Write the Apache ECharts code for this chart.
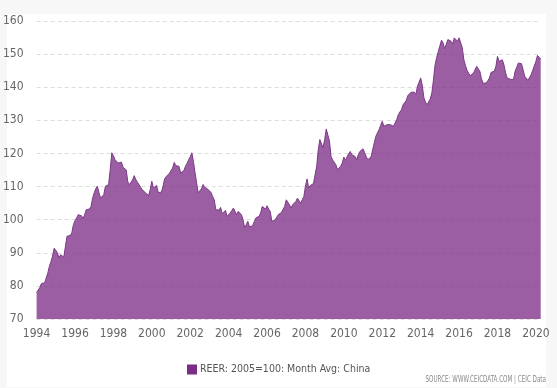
<!DOCTYPE html>
<html>
<head>
<meta charset="utf-8">
<script src="https://cdn.jsdelivr.net/npm/echarts@6/dist/echarts.min.js"></script>
<style>html,body{margin:0;padding:0;background:#f7f7f7;}#c{width:557px;height:388px;}</style>
</head>
<body>
<div id="c"></div>
<script>
var startYear = 1994;
var values1994 = [78.0,78.5,79.5,80.7,81.0,80.9,80.4,83.9,85.9,87.4,89.0,91.4];
var values1995 = [91.6,90.0,88.4,89.4,89.0,88.7,91.9,95.0,95.5,95.2,96.0,98.5];
var values1996 = [99.7,100.5,101.5,101.5,101.2,100.3,101.5,103.0,103.3,103.2,104.0,106.5];
var values1997 = [108.1,109.4,110.1,108.1,106.5,106.0,107.6,110.1,110.3,110.6,115.1,120.2];
var values1998 = [119.3,118.1,117.5,117.1,116.6,117.4,115.8,115.3,115.0,111.4,110.6,110.5];
var values1999 = [112.0,113.3,112.1,111.3,110.6,109.8,109.1,108.6,108.1,107.8,107.3,109.1];
var values2000 = [111.6,109.6,110.0,110.3,108.2,108.1,108.3,110.1,112.3,113.0,113.6,114.0];
var values2001 = [114.6,115.6,117.3,116.3,116.2,116.1,114.1,114.5,114.8,116.1,117.0,118.1];
var values2002 = [119.0,120.2,117.6,114.1,111.1,108.1,108.7,109.3,110.6,109.8,109.3,109.2];
var values2003 = [109.1,108.2,107.0,106.0,103.0,103.0,102.9,103.7,101.8,101.5,102.8,101.0];
var values2004 = [101.5,102.0,102.8,103.5,102.5,101.5,102.5,102.8,101.5,100.0,97.5,98.5];
var values2005 = [99.5,97.8,98.0,98.2,98.5,100.5,100.8,101.0,102.0,104.0,103.6,103.2];
var values2006 = [104.2,103.2,102.5,99.5,100.0,99.9,99.8,101.5,101.8,102.2,102.2,104.0];
var values2007 = [106.0,105.5,104.5,103.5,104.5,105.0,105.5,106.5,106.0,105.0,106.0,107.0];
var values2008 = [110.1,112.3,109.6,110.3,110.6,110.9,111.3,116.1,121.1,124.2,124.7,121.7];
var values2009 = [124.2,127.4,127.2,123.7,119.1,118.0,117.6,116.6,115.1,115.5,116.1,117.1];
var values2010 = [118.9,117.9,119.0,119.9,120.6,119.6,119.3,119.1,118.1,119.6,120.6,120.8];
var values2011 = [121.4,120.2,119.0,118.1,118.6,119.0,119.3,123.2,125.2,125.5,127.2,128.5];
var values2012 = [129.7,128.2,128.5,128.7,129.0,128.7,128.5,128.2,129.2,130.2,131.7,132.5];
var values2013 = [133.2,134.7,135.3,136.0,137.5,138.0,138.5,139.0,138.5,137.8,140.3,141.5];
var values2014 = [142.8,140.5,136.8,135.5,134.7,135.2,136.5,138.3,142.3,146.8,149.0,150.8];
var values2015 = [152.5,154.2,153.4,151.6,153.0,154.4,154.1,153.9,153.1,154.9,154.3,153.9];
var values2016 = [154.9,154.5,151.9,148.3,146.5,145.1,144.2,143.5,143.8,144.3,144.8,146.3];
var values2017 = [145.5,144.8,142.5,141.2,140.8,141.3,142.0,142.8,144.5,144.6,144.8,146.3];
var values2018 = [149.3,147.8,147.3,148.3,146.8,144.5,142.8,142.3,142.4,142.5,142.3,144.8];
var values2019 = [146.0,147.3,147.2,147.1,145.3,143.3,142.8,142.1,142.9,143.8,145.1,145.1];
var values2020 = [147.8,149.6,149.1,148.5];

var seriesName = 'REER: 2005=100: Month Avg: China';
var sourceText = 'SOURCE: WWW.CEICDATA.COM | CEIC Data';
var yTicks = [70,80,90,100,110,120,130,140,150,160];
var xTickYears = [1994,1996,1998,2000,2002,2004,2006,2008,2010,2012,2014,2016,2018,2020];

var allYears = [values1994,values1995,values1996,values1997,values1998,values1999,values2000,
  values2001,values2002,values2003,values2004,values2005,values2006,values2007,values2008,
  values2009,values2010,values2011,values2012,values2013,values2014,values2015,values2016,
  values2017,values2018,values2019,values2020];

var data = [];
allYears.forEach(function(arr, yi){
  arr.forEach(function(v, m){ data.push([startYear + yi + m/12, v]); });
});
var lastT = data[data.length-1][0];

var font = "'DejaVu Sans Condensed','Liberation Sans Narrow',sans-serif";
var chart = echarts.init(document.getElementById('c'), null, {renderer:'canvas'});
chart.setOption({
  backgroundColor: '#f7f7f7',
  animation: false,
  graphic: [
    {type:'rect', left:7, top:14, shape:{width:539, height:373}, style:{fill:'#ffffff'}, z:-10},
    {type:'text', x:546, y:380, scaleX:0.78, style:{text:sourceText, fill:'#888', font:"8px " + font, textAlign:'right', textVerticalAlign:'middle'}}
  ],
  grid: {left:35, right:557-540.7, top:21, bottom:69},
  legend: {
    data:[seriesName], left:182, top:359, icon:'rect', itemWidth:10, itemHeight:10, itemGap:4,
    textStyle:{color:'#555', fontSize:10.5, fontFamily:font, padding:[0,0,0,-2]}
  },
  xAxis: {
    type:'value', min:startYear, max:lastT, interval:2,
    axisLine:{show:false}, axisTick:{show:false}, splitLine:{show:false},
    axisLabel:{color:'#666', fontSize:12, fontFamily:font, margin:9, showMaxLabel:false,
      formatter:function(v){ return xTickYears.indexOf(Math.round(v))>=0 && Math.abs(v-Math.round(v))<1e-6 ? String(Math.round(v)) : ''; }}
  },
  yAxis: {
    type:'value', min:yTicks[0], max:yTicks[yTicks.length-1], interval:10,
    axisLine:{show:false}, axisTick:{show:false},
    splitLine:{show:true, lineStyle:{color:'#dcdcdc', type:[4,3], width:1}},
    axisLabel:{color:'#666', fontSize:12, fontFamily:font, margin:13}
  },
  series: [{
    name: seriesName, type:'line', data:data, showSymbol:false, symbol:'none',
    color:'#7b2c86',
    lineStyle:{color:'#7b3a85', width:1},
    areaStyle:{color:'#7b2c86', opacity:0.76}
  }]
});
</script>
</body>
</html>
